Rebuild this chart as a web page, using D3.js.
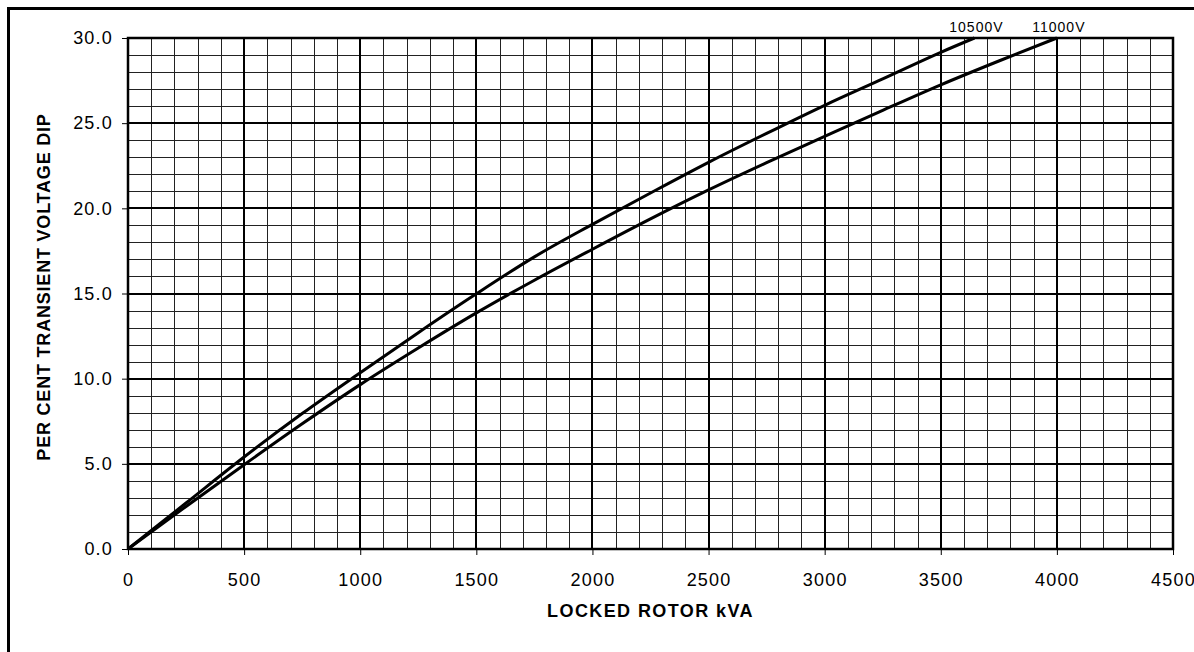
<!DOCTYPE html>
<html>
<head>
<meta charset="utf-8">
<script src="https://cdn.jsdelivr.net/npm/d3@7"></script>
<style>
body{margin:0;background:#fff;}
text{font-family:"Liberation Sans",Arial,sans-serif;fill:#000;}
</style>
</head>
<body>
<svg id="chart" width="1194" height="652"></svg>
<script>
// data
let kva10500 = [0,250,500,750,1000,1250,1500,1750,2000,2250,2500,2750,3000,3250,3500,3645];
let dip10500 = [0,2.7,5.4,7.95,10.35,12.7,14.98,17.15,19.06,20.9,22.7,24.4,26.05,27.6,29.16,30.0];
let kva11000 = [0,250,500,750,1000,1250,1500,1750,2000,2250,2500,2750,3000,3250,3500,3750,4000];
let dip11000 = [0,2.5,4.95,7.35,9.65,11.8,13.86,15.78,17.6,19.38,21.08,22.68,24.22,25.75,27.25,28.65,30.0];
let seriesNames = ["10500V","11000V"];
let xTicks = [0,500,1000,1500,2000,2500,3000,3500,4000,4500];
let yTicks = [0,5,10,15,20,25,30];

let margin = {left:128, top:38, right:1173, bottom:549};
let svg = d3.select("#chart");

// outer frame
svg.append("rect")
  .attr("x",8.5).attr("y",8.5)
  .attr("width",1200).attr("height",660)
  .attr("fill","none").attr("stroke","#000").attr("stroke-width",3);

let x = d3.scaleLinear().domain([0,4500]).range([margin.left,margin.right]);
let y = d3.scaleLinear().domain([0,30]).range([margin.bottom,margin.top]);

let grid = svg.append("g");
// minor grid
grid.selectAll("line.vx").data(d3.range(100,4500,100).filter(d=>d%500!=0))
  .join("line")
  .attr("x1",d=>Math.round(x(d))+0.5).attr("x2",d=>Math.round(x(d))+0.5)
  .attr("y1",y(0)).attr("y2",y(30))
  .attr("stroke","#222").attr("stroke-width",1);
grid.selectAll("line.hy").data(d3.range(1,30,1).filter(d=>d%5!=0))
  .join("line")
  .attr("y1",d=>Math.round(y(d))+0.5).attr("y2",d=>Math.round(y(d))+0.5)
  .attr("x1",x(0)).attr("x2",x(4500))
  .attr("stroke","#222").attr("stroke-width",1);
// major grid
grid.selectAll("line.mx").data(xTicks.slice(1,-1))
  .join("line")
  .attr("x1",d=>Math.round(x(d))).attr("x2",d=>Math.round(x(d)))
  .attr("y1",y(0)).attr("y2",y(30))
  .attr("stroke","#000").attr("stroke-width",2);
grid.selectAll("line.my").data(yTicks.slice(1,-1))
  .join("line")
  .attr("y1",d=>Math.round(y(d))).attr("y2",d=>Math.round(y(d)))
  .attr("x1",x(0)).attr("x2",x(4500))
  .attr("stroke","#000").attr("stroke-width",2);

// plot border
svg.append("rect")
  .attr("x",x(0)).attr("y",y(30))
  .attr("width",x(4500)-x(0)).attr("height",y(0)-y(30))
  .attr("fill","none").attr("stroke","#000").attr("stroke-width",2.5);

// axes
let xAxis = svg.append("g")
  .attr("transform","translate(0,"+margin.bottom+")")
  .call(d3.axisBottom(x).tickValues(xTicks).tickSize(6).tickPadding(18).tickFormat(d3.format("d")));
let yAxis = svg.append("g")
  .attr("transform","translate("+margin.left+",0)")
  .call(d3.axisLeft(y).tickValues(yTicks).tickSize(6).tickPadding(9).tickFormat(d3.format(".1f")));
[xAxis,yAxis].forEach(a=>{
  a.select(".domain").remove();
  a.selectAll("line").attr("stroke","#000").attr("stroke-width",1);
  a.selectAll("text")
    .style("font-family","'Liberation Sans',Arial,sans-serif")
    .style("font-size","18px").style("letter-spacing","1.2px")
    .attr("fill","#000");
});

// curves
let line = d3.line().x(d=>x(d[0])).y(d=>y(d[1])).curve(d3.curveMonotoneX);
let curves = [d3.zip(kva10500,dip10500), d3.zip(kva11000,dip11000)];
svg.selectAll("path.curve").data(curves)
  .join("path")
  .attr("class","curve")
  .attr("d",line)
  .attr("fill","none").attr("stroke","#000").attr("stroke-width",3);

// series labels at line ends
svg.selectAll("text.lbl").data(curves)
  .join("text")
  .attr("class","lbl")
  .attr("x",(d)=>x(d[d.length-1][0])+2)
  .attr("y",y(30)-6)
  .attr("text-anchor","middle")
  .style("font-size","14px").style("letter-spacing","1px")
  .text((d,i)=>seriesNames[i]);

// axis titles
svg.append("text")
  .attr("x",(margin.left+margin.right)/2).attr("y",617)
  .attr("text-anchor","middle")
  .style("font-size","18px").style("font-weight","bold").style("letter-spacing","1.4px")
  .text("LOCKED ROTOR kVA");
svg.append("text")
  .attr("transform","translate(50,287) rotate(-90)")
  .attr("text-anchor","middle")
  .style("font-size","18px").style("font-weight","bold").style("letter-spacing","0.8px")
  .text("PER CENT TRANSIENT VOLTAGE DIP");
</script>
</body>
</html>
